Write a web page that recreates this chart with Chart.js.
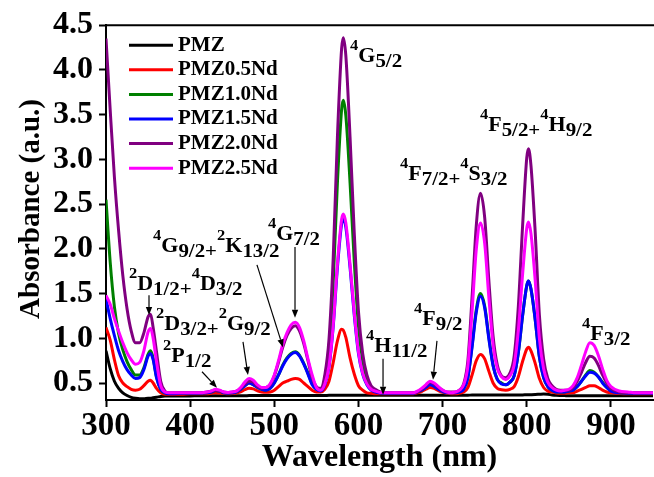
<!DOCTYPE html>
<html><head><meta charset="utf-8">
<script src="https://cdn.jsdelivr.net/npm/chart.js@4.4.0/dist/chart.umd.min.js"></script>
<style>html,body{margin:0;padding:0;background:#fff;}#wrap{width:654px;height:477px;}</style>
</head><body><div id="wrap"><canvas id="c" width="654" height="477"></canvas></div>
<script>
const wavelengths = [
300,305,310,315,320,325,330,335,340,345,350,353,356,360,365,370,375,
380,390,400,410,420,425,430,435,440,445,
450,455,460,465,470,475,480,485,490,495,
500,505,510,515,520,525,530,535,540,545,
550,555,560,565,570,575,580,582,585,590,
595,600,605,610,615,620,630,640,650,660,
665,670,675,680,685,690,695,700,705,710,
715,720,725,730,735,740,745,750,755,760,
765,770,775,780,785,790,795,800,802,805,
810,815,820,825,830,835,840,845,850,855,
860,865,870,875,880,885,890,895,900,910,
920,930,940,950];

const PMZ = [
0.86,0.66,0.52,0.44,0.39,0.36,0.34,0.33,0.325,0.325,0.33,0.33,0.335,0.34,0.35,0.355,0.355,
0.355,0.356,0.356,0.357,0.357,0.357,0.357,0.358,0.358,0.358,
0.358,0.358,0.358,0.358,0.359,0.359,0.359,0.359,0.359,0.359,
0.36,0.36,0.36,0.36,0.36,0.36,0.36,0.36,0.361,0.361,
0.361,0.361,0.361,0.362,0.362,0.362,0.362,0.362,0.362,0.362,
0.362,0.362,0.362,0.362,0.362,0.362,0.362,0.362,0.363,0.363,
0.363,0.363,0.363,0.363,0.363,0.363,0.363,0.364,0.364,0.364,
0.364,0.364,0.364,0.364,0.365,0.365,0.365,0.365,0.365,0.365,
0.366,0.366,0.366,0.366,0.367,0.367,0.367,0.368,0.368,0.369,
0.371,0.374,0.377,0.374,0.367,0.362,0.36,0.359,0.358,0.358,
0.358,0.358,0.358,0.358,0.358,0.358,0.358,0.358,0.358,0.358,
0.358,0.358,0.358,0.358];

const PMZ05Nd = [
1.12,0.98,0.76,0.58,0.50,0.46,0.43,0.42,0.43,0.47,0.52,0.53,0.50,0.44,0.39,0.375,0.375,
0.375,0.375,0.38,0.38,0.38,0.385,0.39,0.387,0.383,0.38,
0.383,0.389,0.40,0.425,0.44,0.434,0.413,0.40,0.396,0.40,
0.42,0.46,0.50,0.52,0.54,0.55,0.54,0.50,0.46,0.42,
0.40,0.40,0.43,0.52,0.73,0.97,1.10,1.09,1.01,0.78,
0.60,0.47,0.42,0.39,0.385,0.38,0.38,0.38,0.38,0.38,
0.38,0.39,0.405,0.43,0.45,0.44,0.415,0.395,0.385,0.38,
0.38,0.387,0.40,0.45,0.59,0.75,0.82,0.77,0.63,0.50,
0.44,0.425,0.42,0.43,0.46,0.57,0.74,0.88,0.90,0.86,
0.72,0.55,0.45,0.41,0.40,0.388,0.385,0.385,0.39,0.39,
0.41,0.43,0.45,0.47,0.47,0.45,0.42,0.40,0.39,0.383,
0.38,0.38,0.38,0.38];

const PMZ10Nd = [
2.55,1.85,1.35,1.05,0.87,0.74,0.65,0.59,0.59,0.67,0.82,0.86,0.78,0.57,0.43,0.39,0.385,
0.385,0.385,0.385,0.385,0.39,0.40,0.415,0.41,0.39,0.385,
0.39,0.40,0.43,0.47,0.50,0.48,0.45,0.43,0.42,0.44,
0.50,0.59,0.70,0.78,0.83,0.85,0.81,0.72,0.61,0.49,
0.43,0.42,0.55,0.88,1.63,2.74,3.56,3.66,3.49,2.74,
1.86,1.14,0.75,0.55,0.45,0.42,0.385,0.385,0.385,0.385,
0.385,0.40,0.42,0.46,0.49,0.47,0.44,0.41,0.39,0.39,
0.39,0.40,0.44,0.56,0.92,1.32,1.50,1.36,1.01,0.70,
0.54,0.50,0.48,0.51,0.58,0.84,1.25,1.59,1.64,1.55,
1.21,0.79,0.56,0.46,0.42,0.40,0.40,0.40,0.41,0.42,
0.46,0.52,0.59,0.64,0.62,0.57,0.51,0.45,0.42,0.39,
0.385,0.385,0.385,0.385];

const PMZ15Nd = [
1.44,1.22,1.03,0.86,0.74,0.65,0.59,0.55,0.56,0.65,0.80,0.83,0.76,0.56,0.43,0.39,0.38,
0.38,0.385,0.385,0.385,0.39,0.40,0.415,0.41,0.39,0.385,
0.39,0.40,0.43,0.47,0.50,0.48,0.45,0.43,0.42,0.44,
0.50,0.59,0.69,0.77,0.82,0.84,0.80,0.71,0.60,0.48,
0.43,0.41,0.48,0.68,1.13,1.79,2.28,2.34,2.24,1.79,
1.26,0.83,0.60,0.48,0.42,0.40,0.385,0.385,0.385,0.385,
0.385,0.40,0.42,0.45,0.48,0.46,0.43,0.405,0.39,0.39,
0.39,0.40,0.43,0.56,0.90,1.29,1.47,1.34,0.99,0.69,
0.54,0.49,0.48,0.51,0.58,0.84,1.25,1.59,1.64,1.55,
1.21,0.79,0.56,0.46,0.42,0.40,0.40,0.40,0.41,0.42,
0.46,0.52,0.58,0.62,0.61,0.57,0.50,0.45,0.41,0.39,
0.385,0.385,0.385,0.385];

const PMZ20Nd = [
4.35,3.55,2.80,2.20,1.70,1.33,1.08,0.95,0.95,1.06,1.24,1.27,1.12,0.85,0.52,0.41,0.39,
0.39,0.39,0.39,0.39,0.40,0.41,0.42,0.41,0.40,0.39,
0.40,0.41,0.44,0.49,0.52,0.51,0.46,0.44,0.45,0.48,
0.58,0.73,0.90,1.03,1.11,1.14,1.08,0.94,0.75,0.56,
0.46,0.44,0.59,0.99,1.90,3.25,4.24,4.36,4.16,3.25,
2.18,1.30,0.83,0.59,0.47,0.43,0.39,0.39,0.39,0.39,
0.39,0.40,0.43,0.47,0.51,0.49,0.45,0.42,0.40,0.40,
0.40,0.42,0.49,0.75,1.46,2.26,2.62,2.35,1.64,1.02,
0.70,0.58,0.56,0.61,0.80,1.36,2.25,3.02,3.12,2.93,
2.19,1.26,0.77,0.55,0.47,0.43,0.42,0.42,0.42,0.45,
0.52,0.62,0.73,0.80,0.78,0.70,0.59,0.50,0.44,0.40,
0.39,0.39,0.39,0.39];

const PMZ25Nd = [
1.48,1.38,1.22,1.08,0.95,0.84,0.76,0.71,0.73,0.86,1.07,1.11,1.00,0.74,0.47,0.40,0.39,
0.39,0.39,0.39,0.39,0.40,0.41,0.43,0.42,0.40,0.395,
0.40,0.41,0.45,0.51,0.55,0.53,0.48,0.45,0.45,0.49,
0.59,0.75,0.93,1.06,1.15,1.18,1.12,0.97,0.77,0.59,
0.45,0.42,0.49,0.69,1.15,1.83,2.33,2.39,2.29,1.83,
1.29,0.85,0.61,0.49,0.43,0.41,0.39,0.39,0.39,0.39,
0.39,0.41,0.44,0.48,0.52,0.50,0.46,0.42,0.40,0.39,
0.40,0.42,0.48,0.69,1.30,1.99,2.29,2.06,1.45,0.92,
0.66,0.57,0.54,0.58,0.70,1.09,1.71,2.23,2.30,2.17,
1.65,1.00,0.66,0.51,0.45,0.42,0.41,0.42,0.43,0.47,
0.56,0.70,0.85,0.95,0.92,0.81,0.66,0.53,0.46,0.41,
0.40,0.39,0.39,0.39];

const seriesLabels = ['PMZ','PMZ0.5Nd','PMZ1.0Nd','PMZ1.5Nd','PMZ2.0Nd','PMZ2.5Nd'];
const seriesColors = ['#000000','#ff0000','#008000','#0000ff','#800080','#ff00ff'];
const seriesValues = [PMZ, PMZ05Nd, PMZ10Nd, PMZ15Nd, PMZ20Nd, PMZ25Nd];

const xTicks = [300,400,500,600,700,800,900];
const yTicks = [0.5,1.0,1.5,2.0,2.5,3.0,3.5,4.0,4.5];

// transition labels: parts [kind, text], anchored (left, main baseline) in data units
const transitionLabels = [
  {parts:[['sup','4'],['n','G'],['sub','5/2']], x:590, y:4.09},
  {parts:[['sup','4'],['n','F'],['sub','5/2+'],['sup','4'],['n','H'],['sub','9/2']], x:744.4, y:3.32},
  {parts:[['sup','4'],['n','F'],['sub','7/2+'],['sup','4'],['n','S'],['sub','3/2']], x:649.4, y:2.765},
  {parts:[['sup','4'],['n','G'],['sub','7/2']], x:492.5, y:2.097},
  {parts:[['sup','4'],['n','G'],['sub','9/2+'],['sup','2'],['n','K'],['sub','13/2']], x:355.9, y:1.963},
  {parts:[['sup','2'],['n','D'],['sub','1/2+'],['sup','4'],['n','D'],['sub','3/2']], x:327.3, y:1.54},
  {parts:[['sup','2'],['n','D'],['sub','3/2+'],['sup','2'],['n','G'],['sub','9/2']], x:359.4, y:1.094},
  {parts:[['sup','2'],['n','P'],['sub','1/2']], x:367.7, y:0.737},
  {parts:[['sup','4'],['n','H'],['sub','11/2']], x:609, y:0.849},
  {parts:[['sup','4'],['n','F'],['sub','9/2']], x:666, y:1.15},
  {parts:[['sup','4'],['n','F'],['sub','3/2']], x:865.7, y:0.982}
];
const arrowsFrom = [[524.6,2.02],[479.4,1.82],[351.1,1.48],[462.8,0.96],[414.1,0.626],[629.2,0.771],[693.3,0.971]];
const arrowsTo   = [[524.6,1.23],[510.3,0.90],[351.1,1.26],[468.7,0.59],[431.9,0.448],[629.2,0.37],[688.6,0.537]];

const FONT = "'Liberation Serif','Times New Roman',serif";
const PART_STYLE = {n:{size:20,dy:0}, sup:{size:15,dy:-12}, sub:{size:19,dy:5}};

const datasets = seriesValues.map((vals,i)=>({
  label: seriesLabels[i],
  data: wavelengths.map((w,j)=>({x:w,y:vals[j]})),
  borderColor: seriesColors[i],
  backgroundColor: seriesColors[i],
  borderWidth: 3,
  pointRadius: 0,
  fill: false,
  cubicInterpolationMode: 'monotone',
  order: seriesValues.length - i
}));

const decor = {
  id: 'decor',
  afterDraw(chart){
    const {ctx, chartArea:a, scales:{x, y}} = chart;
    ctx.save();
    ctx.strokeStyle = '#000'; ctx.lineWidth = 2;
    ctx.beginPath(); ctx.moveTo(a.left - 1, a.top); ctx.lineTo(a.right + 1, a.top); ctx.stroke();
    // legend
    ctx.font = `bold 21px ${FONT}`;
    ctx.textBaseline = 'middle'; ctx.textAlign = 'left';
    seriesLabels.forEach((lab, i) => {
      const yy = a.top + 20 + i * 24.6;
      ctx.strokeStyle = seriesColors[i]; ctx.lineWidth = 3;
      ctx.beginPath(); ctx.moveTo(a.left + 23, yy); ctx.lineTo(a.left + 67, yy); ctx.stroke();
      ctx.fillStyle = '#000';
      ctx.fillText(lab, a.left + 72, yy);
    });
    // arrows
    ctx.strokeStyle = '#000'; ctx.fillStyle = '#000'; ctx.lineWidth = 1.2;
    arrowsFrom.forEach((f, i) => {
      const t = arrowsTo[i];
      const x1 = x.getPixelForValue(f[0]), y1 = y.getPixelForValue(f[1]);
      const x2 = x.getPixelForValue(t[0]), y2 = y.getPixelForValue(t[1]);
      const ang = Math.atan2(y2 - y1, x2 - x1);
      const hl = 8, hw = 3.2;
      const bx = x2 - hl * Math.cos(ang), by = y2 - hl * Math.sin(ang);
      ctx.beginPath(); ctx.moveTo(x1, y1); ctx.lineTo(bx, by); ctx.stroke();
      ctx.beginPath();
      ctx.moveTo(x2, y2);
      ctx.lineTo(bx + hw * Math.sin(ang), by - hw * Math.cos(ang));
      ctx.lineTo(bx - hw * Math.sin(ang), by + hw * Math.cos(ang));
      ctx.closePath(); ctx.fill();
    });
    // transition labels
    ctx.textBaseline = 'alphabetic';
    transitionLabels.forEach(lbl => {
      ctx.save();
      ctx.translate(x.getPixelForValue(lbl.x), y.getPixelForValue(lbl.y));
      ctx.scale(1.1, 1);
      let cx = 0;
      lbl.parts.forEach(([k, t]) => {
        const st = PART_STYLE[k];
        ctx.font = `bold ${st.size}px ${FONT}`;
        ctx.fillText(t, cx, st.dy);
        cx += ctx.measureText(t).width;
      });
      ctx.restore();
    });
    ctx.restore();
  }
};

new Chart(document.getElementById('c'), {
  type: 'line',
  data: {datasets},
  options: {
    responsive: false,
    animation: false,
    layout: {padding: {top: 24, right: 1, left: 0, bottom: 0}},
    plugins: {legend: {display: false}, tooltip: {enabled: false}},
    scales: {
      x: {
        type: 'linear', min: 300, max: 950,
        afterBuildTicks: s => { s.ticks = xTicks.map(v => ({value: v})); },
        afterFit: s => { s.height = 77; },
        border: {display: true, color: '#000', width: 2},
        grid: {display: true, drawOnChartArea: false, drawTicks: true, tickLength: 7, tickWidth: 2, tickColor: '#000', color: '#000'},
        ticks: {color: '#000', font: {family: FONT, size: 33, weight: 'bold'}, padding: 0, maxRotation: 0, minRotation: 0, autoSkip: false},
        title: {display: true, text: 'Wavelength (nm)', color: '#000', font: {family: FONT, size: 32, weight: 'bold'}, padding: {top: 0, bottom: 0}}
      },
      y: {
        type: 'linear', min: 0.31, max: 4.5,
        afterBuildTicks: s => { s.ticks = yTicks.map(v => ({value: v})); },
        afterFit: s => { s.width = 106; },
        border: {display: true, color: '#000', width: 2},
        grid: {display: true, drawOnChartArea: false, drawTicks: true, tickLength: 7, tickWidth: 2, tickColor: '#000', color: '#000'},
        ticks: {color: '#000', font: {family: FONT, size: 32, weight: 'bold'}, padding: 6, callback: v => Number(v).toFixed(1)},
        title: {display: true, text: '\u00A0Absorbance (a.u.)', color: '#000', font: {family: FONT, size: 29, weight: 'bold'}, padding: {top: 14, bottom: 0}}
      }
    }
  },
  plugins: [decor]
});
</script></body></html>
